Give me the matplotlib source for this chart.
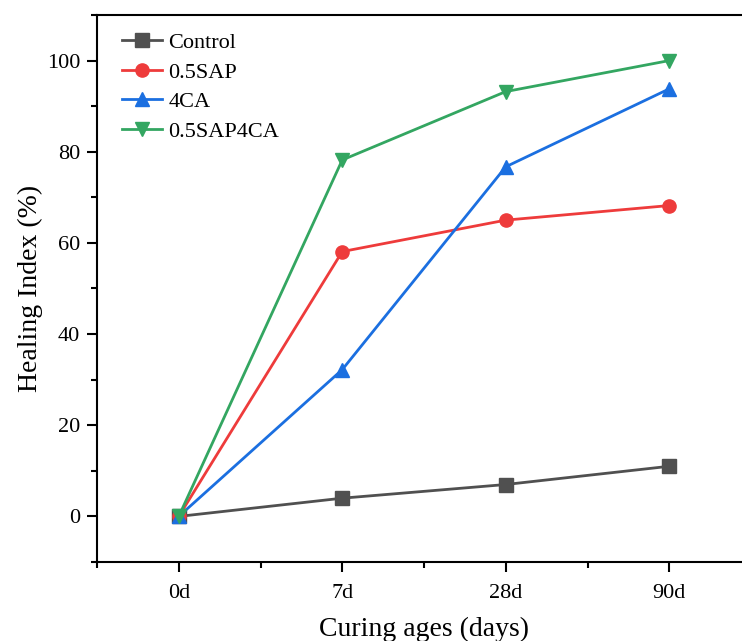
import matplotlib.pyplot as plt
from matplotlib.ticker import MultipleLocator

plt.rcParams['font.family'] = ['Liberation Serif', 'DejaVu Serif']

ages = ["0d", "7d", "28d", "90d"]
control = [0, 4, 7, 11]
sap = [0, 58.1, 65, 68.2]
ca = [0, 32.2, 76.7, 93.8]
sap_ca = [0, 78.2, 93.2, 100]

series = [
    ("Control", control, "#505050", "s"),
    ("0.5SAP", sap, "#ee3b3b", "o"),
    ("4CA", ca, "#1b6fe0", "^"),
    ("0.5SAP4CA", sap_ca, "#33a661", "v"),
]

fig = plt.figure(figsize=(7.42, 6.41), dpi=100)
ax = fig.add_axes([97 / 742, 79 / 641, 654 / 742, 547 / 641])

x = list(range(len(ages)))
for name, vals, col, mk in series:
    ax.plot(x, vals, color=col, marker=mk, markersize=9.5, linewidth=2, label=name)

ax.set_xlim(-0.5, 3.5)
ax.set_ylim(-10, 110)
ax.set_xticks(x)
ax.set_xticklabels(ages)
ax.xaxis.set_minor_locator(MultipleLocator(0.5))
ax.yaxis.set_major_locator(MultipleLocator(20))
ax.yaxis.set_minor_locator(MultipleLocator(10))
ax.tick_params(which='both', direction='out', width=1.5, labelsize=16)
ax.tick_params(axis='x', pad=9)
ax.tick_params(axis='y', pad=5)
ax.tick_params(which='major', length=7)
ax.tick_params(which='minor', length=4)
for s in ax.spines.values():
    s.set_linewidth(1.5)

ax.set_xlabel("Curing ages (days)", fontsize=20, labelpad=10)
ax.set_ylabel("Healing Index (%)", fontsize=20, labelpad=3)
ax.legend(loc='upper left', bbox_to_anchor=(0.024, 0.984), frameon=False,
          fontsize=16, handlelength=1.8, borderaxespad=0, labelspacing=0.4,
          handletextpad=0.3)

fig.savefig("out.png", dpi=100)
